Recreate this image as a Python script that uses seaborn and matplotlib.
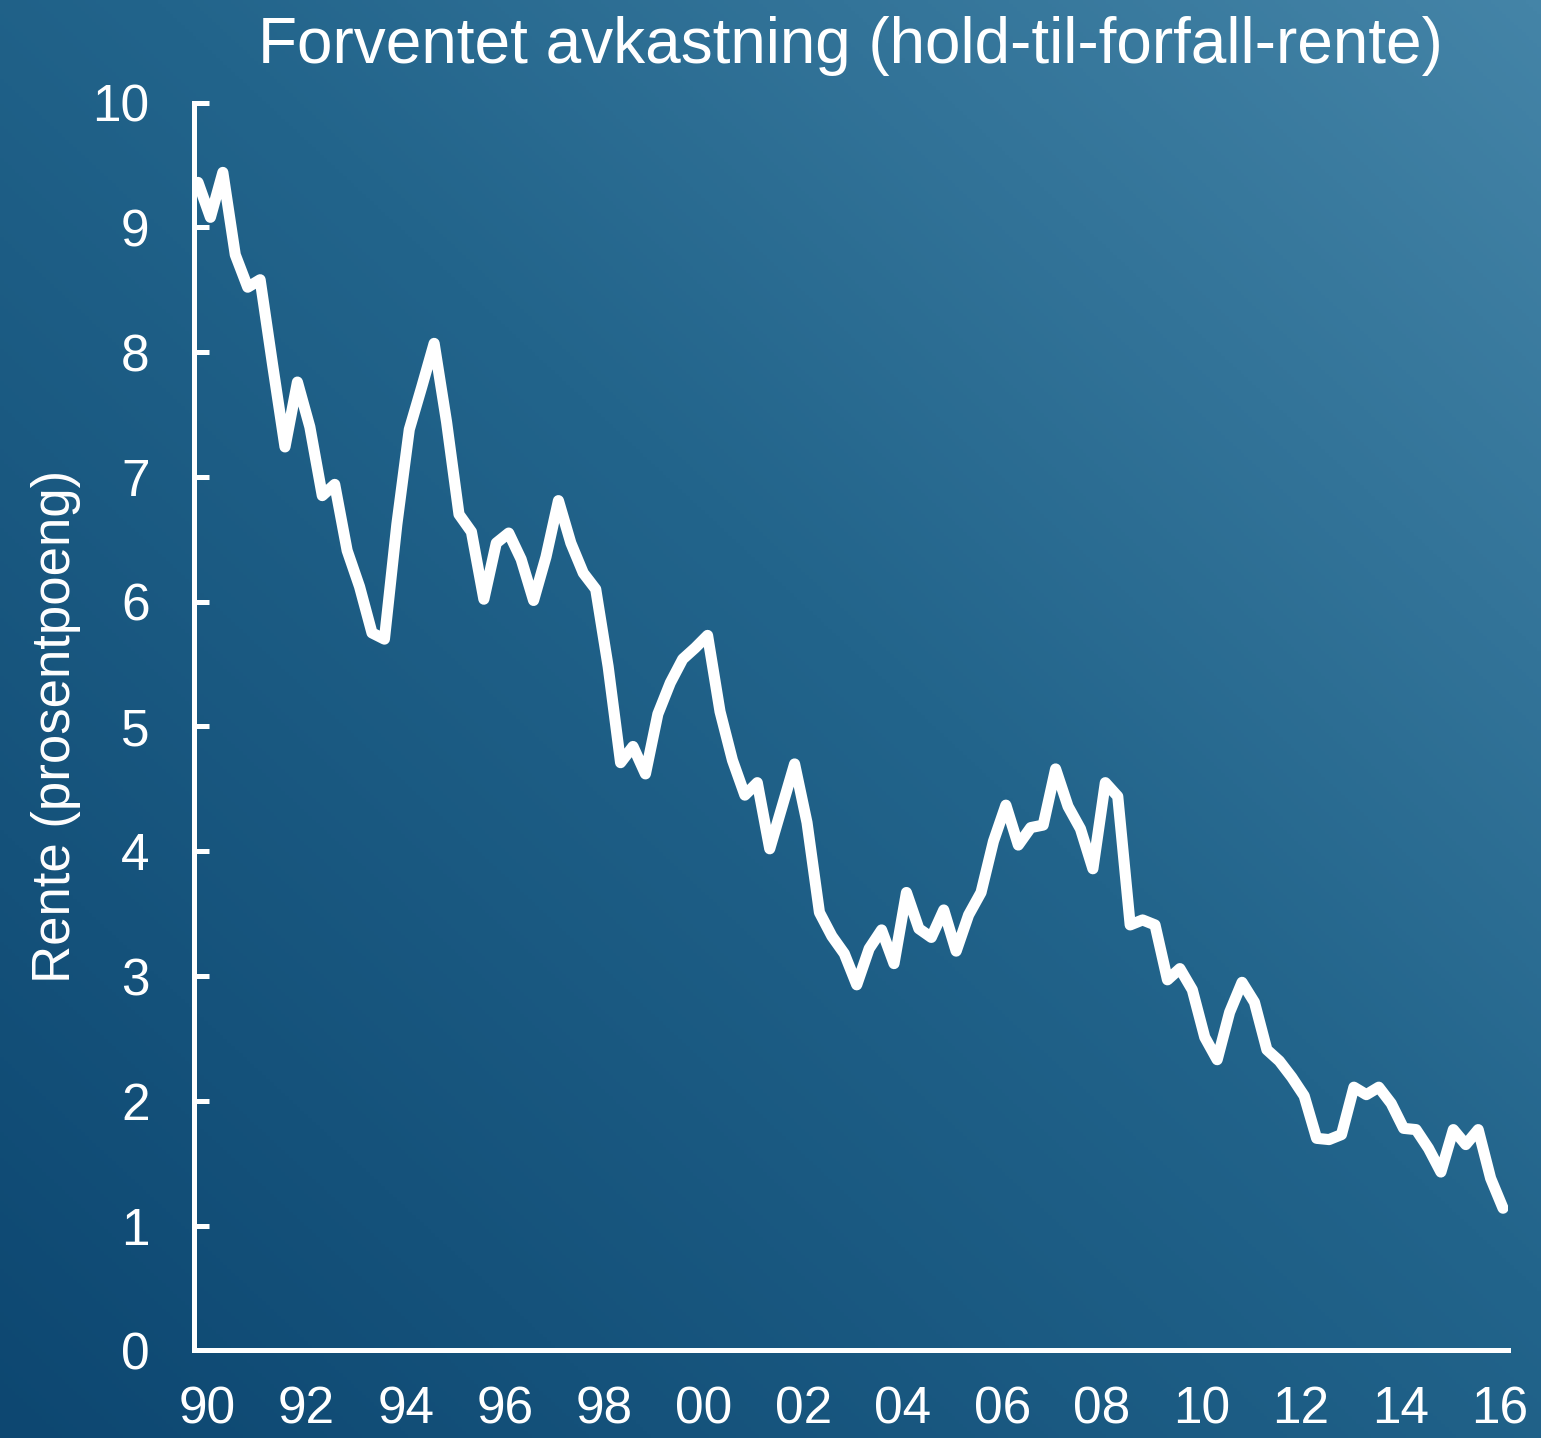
import numpy as np
import pandas as pd
import matplotlib
matplotlib.use("Agg")
import matplotlib.pyplot as plt
from matplotlib.colors import LinearSegmentedColormap
import seaborn as sns

# Quarterly hold-to-maturity yield, 1990Q1 onwards
start_year = 1990
rente = [9.36, 9.08, 9.44, 8.78, 8.52, 8.58, 7.90, 7.24, 7.76, 7.40,
         6.85, 6.94, 6.41, 6.12, 5.75, 5.70, 6.62, 7.38, 7.72, 8.07,
         7.44, 6.70, 6.56, 6.02, 6.47, 6.55, 6.34, 6.01, 6.36, 6.81,
         6.47, 6.23, 6.10, 5.48, 4.71, 4.84, 4.62, 5.10, 5.35, 5.54,
         5.63, 5.73, 5.12, 4.73, 4.45, 4.55, 4.02, 4.36, 4.70, 4.23,
         3.51, 3.32, 3.18, 2.93, 3.22, 3.37, 3.10, 3.67, 3.38, 3.31,
         3.53, 3.20, 3.49, 3.67, 4.08, 4.37, 4.05, 4.19, 4.21, 4.66,
         4.36, 4.18, 3.86, 4.55, 4.44, 3.41, 3.45, 3.41, 2.97, 3.06,
         2.89, 2.51, 2.33, 2.71, 2.95, 2.79, 2.41, 2.32, 2.19, 2.04,
         1.70, 1.69, 1.73, 2.11, 2.05, 2.11, 1.98, 1.78, 1.77, 1.62,
         1.43, 1.77, 1.65, 1.77, 1.38, 1.14]

tick_years = list(range(1990, 2017, 2))
tick_labels = ["90", "92", "94", "96", "98", "00", "02",
               "04", "06", "08", "10", "12", "14", "16"]
y_ticks = list(range(0, 11))

df = pd.DataFrame({
    "tid": start_year + np.arange(len(rente)) / 4,
    "rente": rente,
})

sns.set_style("ticks")
plt.rcParams["font.family"] = ["Liberation Sans", "DejaVu Sans"]

fig = plt.figure(figsize=(15.41, 14.38), dpi=100)

# ---------------------------
# Gradient background
# ---------------------------
bg = fig.add_axes([0, 0, 1, 1])
cmap = LinearSegmentedColormap.from_list(
    "bg", [(0.0, "#0d4771"), (0.55, "#22648b"), (1.0, "#4484a7")]
)
u, v = np.meshgrid(np.linspace(0, 1, 400), np.linspace(0, 1, 400))
bg.imshow((u + v) / 2, origin="lower", extent=[0, 1, 0, 1],
          cmap=cmap, aspect="auto", vmin=0, vmax=1)
bg.axis("off")

# ---------------------------
# Line chart
# ---------------------------
ax = fig.add_axes([0.1259, 0.06085, 0.8527, 0.86787])
ax.set_facecolor("none")

sns.lineplot(
    data=df,
    x="tid",
    y="rente",
    ax=ax,
    color="white",
    linewidth=8,
    solid_capstyle="round",
    solid_joinstyle="round",
)

ax.set_xlim(1989.92, 2016.35)
ax.set_ylim(0, 10)

ax.spines[["top", "right"]].set_visible(False)
for side in ["left", "bottom"]:
    ax.spines[side].set_color("white")
    ax.spines[side].set_linewidth(3.6)

ax.set_yticks(y_ticks)
ax.tick_params(axis="y", direction="in", length=11, width=3.6,
               colors="white", labelsize=37, pad=32)

ax.set_xticks([y + 0.18 for y in tick_years], tick_labels)
ax.tick_params(axis="x", length=0, colors="white", labelsize=37, pad=25)

ax.set_xlabel("")
ax.set_ylabel("Rente (prosentpoeng)", fontsize=38, color="white")
ax.yaxis.set_label_coords(-0.086, 0.5)

fig.text(850 / 1541, 1 - 63 / 1438,
         "Forventet avkastning (hold-til-forfall-rente)",
         ha="center", va="baseline", fontsize=46, color="white")

fig.savefig("out.png", dpi=100)
